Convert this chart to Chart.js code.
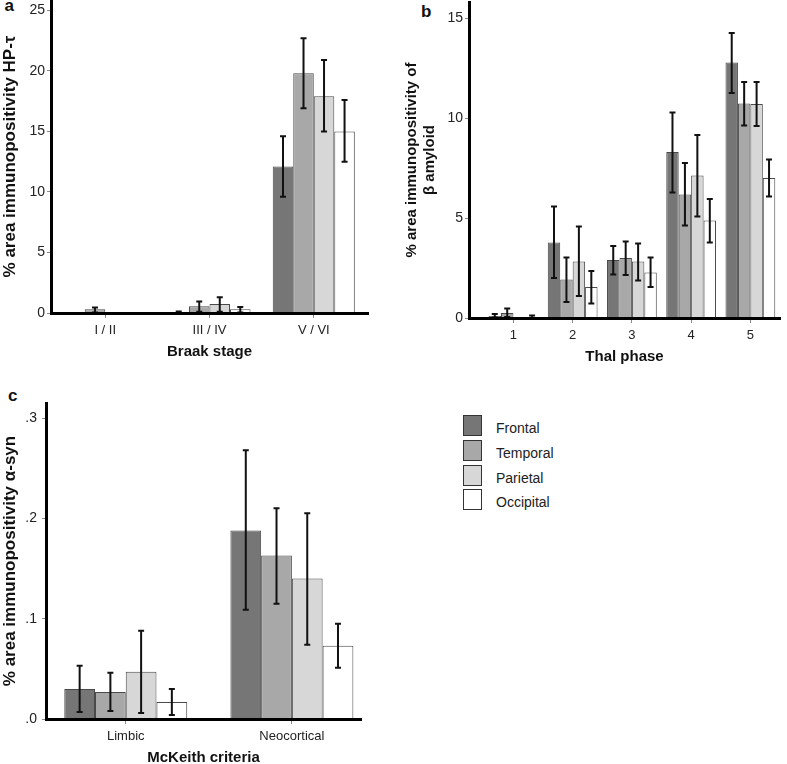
<!DOCTYPE html>
<html><head><meta charset="utf-8">
<script src="https://cdn.jsdelivr.net/npm/chart.js@4/dist/chart.umd.min.js"></script>
<style>
html,body{margin:0;padding:0;background:#fff;}
body{width:787px;height:764px;position:relative;overflow:hidden;font-family:'Liberation Sans',Arial,sans-serif;}
canvas{position:absolute;}
.lbl{position:absolute;font-weight:bold;font-size:17px;line-height:16px;color:#111;}
.sw{position:absolute;box-sizing:border-box;width:19px;height:21px;border:1.5px solid #333;}
.lt{position:absolute;font-size:14px;line-height:14px;color:#222;white-space:nowrap;}
</style></head><body>
<div class="lbl" style="left:4.5px;top:-2px">a</div>
<div class="lbl" style="left:421px;top:4px">b</div>
<div class="lbl" style="left:8px;top:388px">c</div>
<canvas id="ca" width="390" height="363" style="left:0;top:0"></canvas>
<canvas id="cb" width="397" height="368" style="left:390px;top:0"></canvas>
<canvas id="cc" width="400" height="397" style="left:0;top:370px"></canvas>
<div id="legend"></div>
<script>
// ---------- data ----------
const seriesNames = ['Frontal', 'Temporal', 'Parietal', 'Occipital'];
const seriesColors = ['#767676', '#a8a8a8', '#d7d7d7', '#ffffff'];

// panel a: Braak stage
const braakStages = ['I / II', 'III / IV', 'V / VI'];
const braakTicks = [0, 5, 10, 15, 20, 25];
const braakFrontal = [0.05, 0.08, 12.1];
const braakTemporal = [0.3, 0.55, 19.8];
const braakParietal = [0.05, 0.75, 17.9];
const braakOccipital = [0.05, 0.3, 15.0];
const braakFrontalErr = [null, [0.02, 0.12], [9.6, 14.6]];
const braakTemporalErr = [[0.05, 0.45], [0.1, 0.95], [16.9, 22.7]];
const braakParietalErr = [null, [0.1, 1.3], [15.0, 20.9]];
const braakOccipitalErr = [null, [0.05, 0.5], [12.5, 17.6]];

// panel b: Thal phase
const thalPhases = ['1', '2', '3', '4', '5'];
const thalTicks = [0, 5, 10, 15];
const thalFrontal = [0.1, 3.77, 2.9, 8.3, 12.78];
const thalTemporal = [0.25, 1.93, 3.0, 6.18, 10.72];
const thalParietal = [0.03, 2.82, 2.82, 7.12, 10.7];
const thalOccipital = [0.05, 1.55, 2.27, 4.87, 7.0];
const thalFrontalErr = [[0.02, 0.2], [2.0, 5.57], [2.18, 3.6], [6.27, 10.28], [11.25, 14.25]];
const thalTemporalErr = [[0.05, 0.47], [0.8, 3.02], [2.15, 3.83], [4.62, 7.75], [9.63, 11.8]];
const thalParietalErr = [null, [1.1, 4.57], [1.88, 3.73], [5.07, 9.15], [9.6, 11.8]];
const thalOccipitalErr = [[0.0, 0.12], [0.73, 2.35], [1.55, 3.02], [3.78, 5.95], [6.08, 7.93]];

// panel c: McKeith criteria
const mckeithCriteria = ['Limbic', 'Neocortical'];
const mckeithTicks = [0, 0.1, 0.2, 0.3];
const mckeithFrontal = [0.030, 0.188];
const mckeithTemporal = [0.027, 0.163];
const mckeithParietal = [0.047, 0.140];
const mckeithOccipital = [0.017, 0.073];
const mckeithFrontalErr = [[0.007, 0.053], [0.109, 0.268]];
const mckeithTemporalErr = [[0.008, 0.046], [0.115, 0.210]];
const mckeithParietalErr = [[0.006, 0.088], [0.074, 0.205]];
const mckeithOccipitalErr = [[0.004, 0.030], [0.051, 0.095]];

// ---------- rendering ----------
Chart.defaults.font.family = "'Liberation Sans', Arial, sans-serif";

const errorBarPlugin = {
  id: 'errorBars',
  afterDatasetsDraw(chart) {
    const ctx = chart.ctx;
    const y = chart.scales.y;
    ctx.save();
    ctx.strokeStyle = '#111';
    ctx.lineWidth = 2;
    chart.data.datasets.forEach((ds, di) => {
      const meta = chart.getDatasetMeta(di);
      meta.data.forEach((bar, i) => {
        const e = ds.errorBars[i];
        if (!e) return;
        const x = bar.x;
        const lo = y.getPixelForValue(e[0]);
        const hi = y.getPixelForValue(e[1]);
        ctx.beginPath();
        ctx.moveTo(x, lo); ctx.lineTo(x, hi);
        ctx.moveTo(x - 3, lo); ctx.lineTo(x + 3, lo);
        ctx.moveTo(x - 3, hi); ctx.lineTo(x + 3, hi);
        ctx.stroke();
      });
    });
    ctx.restore();
  }
};

function makeChart(id, cfg) {
  const datasets = cfg.values.map((vals, si) => ({
    label: seriesNames[si],
    data: vals.map((v, i) => ({ x: i + 1, y: v })),
    errorBars: cfg.errors[si],
    backgroundColor: seriesColors[si],
    borderColor: '#4a4a4a',
    borderWidth: 1,
    categoryPercentage: cfg.catPct,
    barPercentage: 1
  }));
  return new Chart(document.getElementById(id), {
    type: 'bar',
    data: { datasets },
    plugins: [errorBarPlugin],
    options: {
      responsive: false,
      animation: false,
      events: [],
      layout: { padding: cfg.padding },
      plugins: { legend: { display: false }, tooltip: { enabled: false } },
      scales: {
        x: {
          type: 'linear', min: cfg.xMin, max: cfg.xMax, bounds: 'data', offset: false,
          afterBuildTicks: s => { s.ticks = cfg.categories.map((c, i) => ({ value: i + 1 })); },
          afterFit: s => { s.height = cfg.xHeight; s.paddingLeft = 0; s.paddingRight = 0; },
          grid: { display: true, drawOnChartArea: false, offset: false, tickLength: 5, color: '#8a8a8a', lineWidth: 1 },
          border: { display: true, color: '#000', width: 3, z: 1 },
          ticks: { autoSkip: false, maxRotation: 0, padding: cfg.xTickPad, color: '#222', font: { size: 13 },
                   callback: v => cfg.categories[Math.round(v) - 1] },
          title: { display: true, text: cfg.xTitle, color: '#111', font: { size: 15, weight: 'bold' },
                   padding: { top: 0, bottom: cfg.xTitlePad } }
        },
        y: {
          min: 0, max: cfg.yMax, bounds: 'data',
          afterBuildTicks: s => { s.ticks = cfg.yTicks.map(v => ({ value: v })); },
          afterFit: s => { s.width = cfg.yWidth; s.paddingTop = 0; s.paddingBottom = 0; },
          grid: { display: true, drawOnChartArea: false, tickLength: 4, color: '#8a8a8a', lineWidth: 1 },
          border: { display: true, color: '#000', width: 3, z: 1 },
          ticks: { padding: cfg.yTickPad, color: '#222', font: { size: 14 }, callback: cfg.yFmt },
          title: { display: true, text: cfg.yTitle, color: '#111', font: { size: cfg.yTitleSize, weight: 'bold' },
                   padding: { top: cfg.yTitlePad, bottom: 0 } }
        }
      }
    }
  });
}

makeChart('ca', {
  categories: braakStages,
  values: [braakFrontal, braakTemporal, braakParietal, braakOccipital],
  errors: [braakFrontalErr, braakTemporalErr, braakParietalErr, braakOccipitalErr],
  catPct: 0.787, xMin: 0.48, xMax: 3.52, yMax: 25.85, yTicks: braakTicks,
  padding: { left: 0, top: 0, right: 22, bottom: 0 },
  xHeight: 50, yWidth: 51, xTickPad: 5, yTickPad: 2, xTitlePad: 2, yTitlePad: 0,
  xTitle: 'Braak stage', yTitle: '% area immunopositivity HP-τ', yTitleSize: 17,
  yFmt: v => String(v)
});

makeChart('cb', {
  categories: thalPhases,
  values: [thalFrontal, thalTemporal, thalParietal, thalOccipital],
  errors: [thalFrontalErr, thalTemporalErr, thalParietalErr, thalOccipitalErr],
  catPct: 0.84, xMin: 0.25, xMax: 5.5, yMax: 15.8, yTicks: thalTicks,
  padding: { left: 0, top: 2, right: 7, bottom: 0 },
  xHeight: 50, yWidth: 79, xTickPad: 4.7, yTickPad: 2, xTitlePad: 2, yTitlePad: 13,
  xTitle: 'Thal phase', yTitle: ['% area immunopositivity of', 'β amyloid'], yTitleSize: 15,
  yFmt: v => String(v)
});

makeChart('cc', {
  categories: mckeithCriteria,
  values: [mckeithFrontal, mckeithTemporal, mckeithParietal, mckeithOccipital],
  errors: [mckeithFrontalErr, mckeithTemporalErr, mckeithParietalErr, mckeithOccipitalErr],
  catPct: 0.74, xMin: 0.52, xMax: 2.416, yMax: 0.315, yTicks: mckeithTicks,
  padding: { left: 0, top: 33, right: 39, bottom: 0 },
  xHeight: 48, yWidth: 46, xTickPad: 4.7, yTickPad: 5, xTitlePad: 0, yTitlePad: 0,
  xTitle: 'McKeith criteria', yTitle: '% area immunopositivity α-syn', yTitleSize: 17,
  yFmt: v => v.toFixed(1).replace(/^0/, '')
});

// legend
const legendEl = document.getElementById('legend');
seriesNames.forEach((name, i) => {
  const sw = document.createElement('div');
  sw.className = 'sw';
  sw.style.left = '463px';
  sw.style.top = (415 + i * 24.8) + 'px';
  sw.style.background = seriesColors[i];
  legendEl.appendChild(sw);
  const t = document.createElement('div');
  t.className = 'lt';
  t.textContent = name;
  t.style.left = '496px';
  t.style.top = (421 + i * 24.8) + 'px';
  legendEl.appendChild(t);
});
</script>
</body></html>
